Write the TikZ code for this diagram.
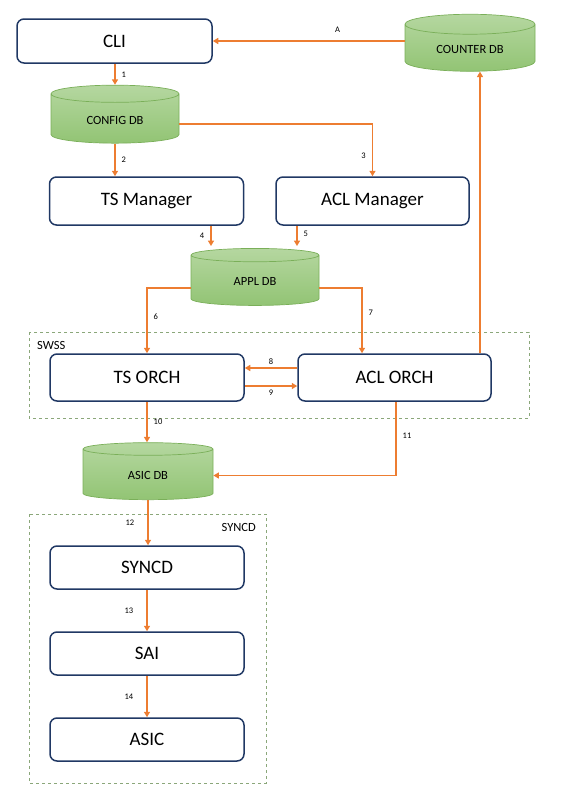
\documentclass[tikz,border=0pt]{standalone}
\usepackage{fontspec}
\setmainfont{Carlito}
\usetikzlibrary{arrows.meta,shapes.geometric}
\definecolor{flowc}{HTML}{ED7D31}
\definecolor{boxc}{HTML}{203864}
\definecolor{dbtopc}{HTML}{B5D7A0}
\definecolor{dbbotc}{HTML}{92C474}
\definecolor{dbc}{HTML}{7AAF59}
\definecolor{grpc}{HTML}{8BA77A}
\tikzset{
  blk/.style={draw=boxc,line width=1.5pt,rounded corners=7pt,fill=white,minimum width=194pt,minimum height=46pt,font=\fontsize{19}{21}\selectfont},
  db/.style={cylinder,shape border rotate=90,aspect=0.27,draw=dbc,line width=0.7pt,top color=dbtopc,bottom color=dbbotc,minimum width=128pt,minimum height=57pt,font=\fontsize{12.5}{14}\selectfont},
  flow/.style={draw=flowc,line width=1.4pt,-{Triangle[length=5.5pt,width=6pt]}},
  num/.style={font=\fontsize{8.5}{10}\selectfont,inner sep=1pt},
  grp/.style={draw=grpc,dashed,line width=0.6pt},
  grplbl/.style={font=\fontsize{12.5}{14}\selectfont,inner sep=0pt}
}
\begin{document}
\begin{tikzpicture}[x=1pt,y=-1pt]
    \useasboundingbox (0,0) rectangle (563,796);
    % groups
    \draw[grp] (29,332) rectangle (529,418);
    \node[grplbl,anchor=west] (swsslbl) at (37,345) {SWSS};
    \draw[grp] (29,514) rectangle (266,783);
    \node[grplbl,anchor=east] (syncdlbl) at (256,527) {SYNCD};
    % blocks
    \node[blk,minimum width=195pt,minimum height=44pt] (cli) at (114.5,41) {CLI};
    \node[blk,minimum height=48pt] (tsm) at (146.5,201) {TS Manager};
    \node[blk,minimum width=193pt,minimum height=48pt] (aclm) at (372.5,201) {ACL Manager};
    \node[blk,minimum height=47pt] (tso) at (147,377.5) {TS ORCH};
    \node[blk,minimum width=193pt,minimum height=47pt] (aclo) at (394.5,377.5) {ACL ORCH};
    \node[blk,minimum height=43pt] (syncd) at (147,567.5) {SYNCD};
    \node[blk,minimum height=43pt] (sai) at (147,653.5) {SAI};
    \node[blk,minimum height=43pt] (asic) at (147,739.5) {ASIC};
    % databases
    \node[db,minimum width=130pt] (cntdb) at (470,49.5) {COUNTER DB};
    \node[db,minimum height=58pt] (cfgdb) at (115,120) {CONFIG DB};
    \node[db] (appldb) at (255,281.5) {APPL DB};
    \node[db,minimum width=130pt] (asicdb) at (148,475.5) {ASIC DB};
    % flows
    \draw[flow] (cli.east -| cntdb.west) -- (cli.east) node[num,pos=.35,above=7pt]{A};
    \draw[flow] (cli.south -| cfgdb.north) -- (cfgdb.north) node[num,midway,right=5pt]{1};
    \draw[flow] (cfgdb.south) -- (cfgdb.south |- tsm.north) node[num,midway,right=5pt]{2};
    \draw[flow] ([yshift=-4pt]cfgdb.east) -| (aclm.north) node[num,pos=.8,left=5pt]{3};
    \draw[flow] ([xshift=64.5pt]tsm.south) -- ([xshift=64.5pt,yshift=2pt]tsm.south |- appldb.north) node[num,midway,left=5pt]{4};
    \draw[flow] ([xshift=-75.5pt]aclm.south) -- ([xshift=-75.5pt,yshift=2pt]aclm.south |- appldb.north) node[num,pos=.4,right=5pt]{5};
    \draw[flow] ([yshift=-6.5pt]appldb.west) -| (tso.north) node[num,pos=.72,right=5pt]{6};
    \draw[flow] ([yshift=-6.5pt]appldb.east) -| ([xshift=-32.5pt]aclo.north) node[num,pos=.69,right=5pt]{7};
    \draw[flow] ([xshift=85.5pt]aclo.north) -- ([xshift=85.5pt]aclo.north |- cntdb.south);
    \draw[flow] ([yshift=9.5pt]aclo.west) -- ([yshift=9.5pt]aclo.west -| tso.east) node[num,midway,above=2pt]{8};
    \draw[flow] ([yshift=-8.5pt]tso.east) -- ([yshift=-8.5pt]tso.east -| aclo.west) node[num,midway,below=2pt]{9};
    \draw[flow] (tso.south) -- (tso.south |- asicdb.north) node[num,midway,right=5pt]{10};
    \draw[flow] ([xshift=1.5pt]aclo.south) |- (asicdb.east) node[num,pos=.23,right=5pt]{11};
    \draw[flow] (asicdb.south) -- (asicdb.south |- syncd.north) node[num,midway,left=12pt]{12};
    \draw[flow] (syncd.south) -- (sai.north) node[num,midway,left=12pt]{13};
    \draw[flow] (sai.south) -- (asic.north) node[num,midway,left=12pt]{14};
\end{tikzpicture}
\end{document}
